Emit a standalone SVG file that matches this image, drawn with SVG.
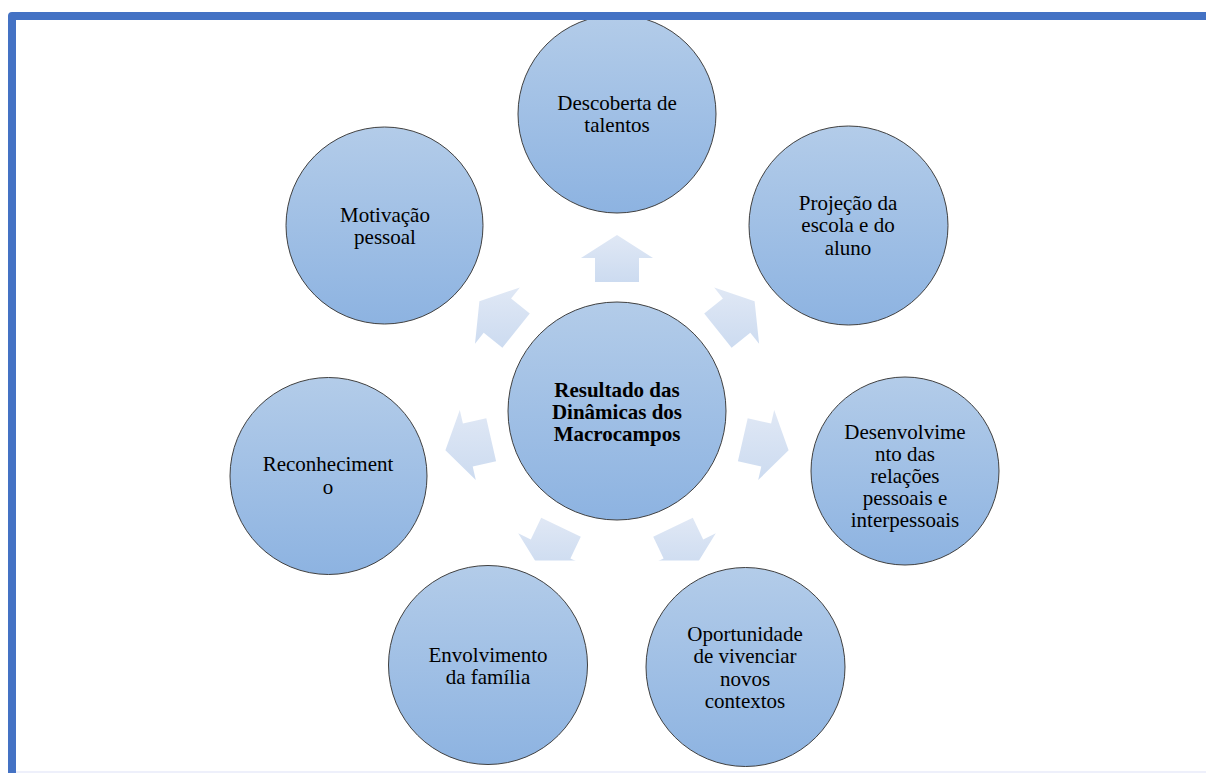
<svg xmlns="http://www.w3.org/2000/svg" width="1206" height="773" viewBox="0 0 1206 773">
<defs>
<linearGradient id="cg" x1="0" y1="0" x2="0" y2="1">
<stop offset="0" stop-color="#b3cce9"/>
<stop offset="1" stop-color="#8db3e1"/>
</linearGradient>
<linearGradient id="ag" x1="0" y1="0" x2="0" y2="1">
<stop offset="0" stop-color="#e0e8f5"/>
<stop offset="1" stop-color="#ccdbf0"/>
</linearGradient>
<clipPath id="clipb"><rect x="0" y="0" width="1206" height="560.5"/></clipPath>
</defs>
<style>
.c{fill:url(#cg);stroke:#404040;stroke-width:1}
.a{fill:url(#ag);stroke:none}
text{font-family:"Liberation Serif","Times New Roman",serif;font-size:21px;fill:#000;text-anchor:middle}
.b{font-weight:bold}
</style>
<rect x="0" y="0" width="1206" height="773" fill="#fff"/>
<g id="connectors">
<polygon class="a" points="617,235 653,258 639,258 639,282 595,282 595,258 581,258"/>
<polygon class="a" points="754.6,301.3 759.1,343.7 750.3,332.8 731.6,347.8 704.2,313.4 722.9,298.4 714.2,287.5"/>
<polygon class="a" points="788.6,450.2 758.2,480.1 761.3,466.5 737.9,461.2 747.7,418.3 771.1,423.6 774.2,409.9"/>
<polygon class="a" clip-path="url(#clipb)" points="693.4,569.6 650.9,564.5 663.6,558.4 653.2,536.8 692.8,517.7 703.2,539.4 715.8,533.3"/>
<polygon class="a" clip-path="url(#clipb)" points="540.6,569.6 518.2,533.3 530.8,539.4 541.2,517.7 580.8,536.8 570.4,558.4 583,564.5"/>
<polygon class="a" points="445.4,450.2 459.8,409.9 462.9,423.6 486.3,418.3 496.1,461.2 472.7,466.5 475.8,480.1"/>
<polygon class="a" points="479.4,301.3 519.9,287.5 511.1,298.4 529.8,313.4 502.4,347.8 483.7,332.8 475,343.7"/>
</g>
<g id="center">
<circle class="c" cx="617" cy="411" r="109"/>
<text class="b" x="617" y="397">Resultado das</text>
<text class="b" x="617" y="419">Dinâmicas dos</text>
<text class="b" x="617" y="441">Macrocampos</text>
</g>
<g id="n-descoberta">
<circle class="c" cx="617" cy="114" r="99"/>
<text x="617" y="110">Descoberta de</text>
<text x="617" y="132">talentos</text>
</g>
<g id="n-projecao">
<circle class="c" cx="848.5" cy="225.5" r="99.5"/>
<text x="848" y="210">Projeção da</text>
<text x="848" y="232">escola e do</text>
<text x="848" y="255">aluno</text>
</g>
<g id="n-desenvolvimento">
<circle class="c" cx="905" cy="471" r="94"/>
<text x="905" y="439">Desenvolvime</text>
<text x="905" y="461">nto das</text>
<text x="905" y="483">relações</text>
<text x="905" y="505">pessoais e</text>
<text x="905" y="527">interpessoais</text>
</g>
<g id="n-oportunidade">
<circle class="c" cx="745.5" cy="667" r="99.5"/>
<text x="745" y="641">Oportunidade</text>
<text x="745" y="663">de vivenciar</text>
<text x="745" y="686">novos</text>
<text x="745" y="708">contextos</text>
</g>
<g id="n-envolvimento">
<circle class="c" cx="488" cy="665" r="99.5"/>
<text x="488" y="662">Envolvimento</text>
<text x="488" y="684">da família</text>
</g>
<g id="n-reconhecimento">
<circle class="c" cx="328.5" cy="476" r="98.5"/>
<text x="328" y="471">Reconheciment</text>
<text x="328" y="494">o</text>
</g>
<g id="n-motivacao">
<circle class="c" cx="384.5" cy="225.5" r="98.5"/>
<text x="385" y="222">Motivação</text>
<text x="385" y="244">pessoal</text>
</g>
<g id="border">
<rect x="16" y="771" width="1190" height="2" fill="#eef0fb"/>
<path d="M8,773 V16 Q8,12 12,12 H1206 V20 H16 V773 Z" fill="#4472c4"/>
</g>
</svg>
